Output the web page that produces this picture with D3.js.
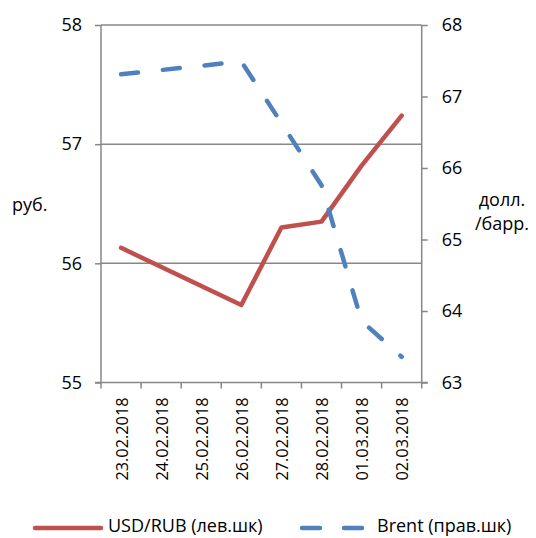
<!DOCTYPE html>
<html>
<head>
<meta charset="utf-8">
<script src="https://cdn.jsdelivr.net/npm/d3@7"></script>
<style>
  html, body { margin: 0; padding: 0; background: #fff; }
  svg { display: block; }
  text { font-family: "Open Sans", "Noto Sans", sans-serif; fill: #000; }
</style>
</head>
<body>
<svg id="chart" width="536" height="538"></svg>
<script>
const dates = ["23.02.2018","24.02.2018","25.02.2018","26.02.2018","27.02.2018","28.02.2018","01.03.2018","02.03.2018"];
const usdRub = [56.13, null, null, 55.65, 56.30, 56.35, 56.82, 57.24];
const brent = [67.31, null, null, 67.49, 66.63, 65.76, 63.86, 63.36];
const leftTicks = [55, 56, 57, 58];
const rightTicks = [63, 64, 65, 66, 67, 68];
const seriesNames = ["USD/RUB (лев.шк)", "Brent (прав.шк)"];
const leftTitle = "руб.";
const rightTitle = ["долл.", "/барр."];

const svg = d3.select("#chart");
const L = 101, R = 421.7, T = 25, B = 382.5;
const gridColor = "#878787";
const red = "#C0504D", blue = "#4F81BD";
const fs = "18px";

const x = d3.scaleBand().domain(dates).range([L, R]).padding(0);
const yL = d3.scaleLinear().domain([55, 58]).range([B, T]);
const yR = d3.scaleLinear().domain([63, 68]).range([B, T]);
const cx = d => x(d) + x.bandwidth() / 2;

// gridlines (left axis major)
svg.append("g").selectAll("line").data(leftTicks.filter(v => v !== 55)).join("line")
  .attr("x1", L).attr("x2", R)
  .attr("y1", d => yL(d)).attr("y2", d => yL(d))
  .attr("stroke", gridColor).attr("stroke-width", 1.5);

// left axis
const gLeft = svg.append("g").attr("transform", `translate(${L},0)`)
  .call(d3.axisLeft(yL).tickValues(leftTicks).tickSize(6).tickPadding(13).tickFormat(d3.format("d")));
gLeft.select(".domain").remove();
gLeft.selectAll(".tick line").attr("stroke", gridColor).attr("stroke-width", 1.5);
gLeft.selectAll(".tick text").style("font-size", fs).style("font-family", "Open Sans").attr("fill", "#000");
svg.append("line").attr("x1", L).attr("x2", L).attr("y1", T).attr("y2", B)
  .attr("stroke", gridColor).attr("stroke-width", 1.5);

// right axis
const gRight = svg.append("g").attr("transform", `translate(${R},0)`)
  .call(d3.axisRight(yR).tickValues(rightTicks).tickSize(6).tickPadding(14).tickFormat(d3.format("d")));
gRight.select(".domain").remove();
gRight.selectAll(".tick line").attr("stroke", gridColor).attr("stroke-width", 1.5);
gRight.selectAll(".tick text").style("font-size", fs).style("font-family", "Open Sans").attr("fill", "#000");
svg.append("line").attr("x1", R).attr("x2", R).attr("y1", T).attr("y2", B)
  .attr("stroke", gridColor).attr("stroke-width", 1.5);

// bottom axis line and boundary ticks
svg.append("line").attr("x1", L - 6).attr("x2", R + 6).attr("y1", B).attr("y2", B)
  .attr("stroke", gridColor).attr("stroke-width", 1.5);
const bounds = dates.map(d => x(d)).concat([x(dates[dates.length - 1]) + x.bandwidth()]);
svg.append("g").selectAll("line").data(bounds).join("line")
  .attr("x1", d => d).attr("x2", d => d).attr("y1", B).attr("y2", B + 6)
  .attr("stroke", gridColor).attr("stroke-width", 1.5);

// date labels
svg.append("g").selectAll("text").data(dates).join("text")
  .attr("transform", d => `translate(${cx(d) + 1},${B + 15}) rotate(-90)`)
  .attr("text-anchor", "end").attr("dy", "0.35em")
  .style("font-size", "16.3px")
  .text(d => d);

// axis titles
svg.append("text").attr("x", 12).attr("y", 205).attr("dy", "0.35em")
  .style("font-size", fs).text(leftTitle);
svg.append("g").selectAll("text").data(rightTitle).join("text")
  .attr("x", 502).attr("y", (d, i) => 200 + i * 24).attr("dy", "0.35em")
  .attr("text-anchor", "middle").style("font-size", fs).text(d => d);

// lines
const usdPts = dates.map((d, i) => ({d, v: usdRub[i]})).filter(p => p.v != null);
const brentPts = dates.map((d, i) => ({d, v: brent[i]})).filter(p => p.v != null);

svg.append("path").datum(usdPts)
  .attr("d", d3.line().x(p => cx(p.d)).y(p => yL(p.v)))
  .attr("fill", "none").attr("stroke", red).attr("stroke-width", 4.5)
  .attr("stroke-linejoin", "round").attr("stroke-linecap", "round");

svg.append("path").datum(brentPts)
  .attr("d", d3.line().x(p => cx(p.d)).y(p => yR(p.v)))
  .attr("fill", "none").attr("stroke", blue).attr("stroke-width", 4.5)
  .attr("stroke-dasharray", "17 25").attr("stroke-linejoin", "round").attr("stroke-linecap", "round");

// legend
const ly = 526;
svg.append("line").attr("x1", 35).attr("x2", 101).attr("y1", ly + 2).attr("y2", ly + 2)
  .attr("stroke", red).attr("stroke-width", 4.5).attr("stroke-linecap", "round");
svg.append("text").attr("x", 108).attr("y", ly).attr("dy", "0.35em")
  .style("font-size", "18px").text(seriesNames[0]);
svg.append("line").attr("x1", 302).attr("x2", 364).attr("y1", ly + 2).attr("y2", ly + 2)
  .attr("stroke", blue).attr("stroke-width", 4.5).attr("stroke-linecap", "round")
  .attr("stroke-dasharray", "18 24");
svg.append("text").attr("x", 377).attr("y", ly).attr("dy", "0.35em")
  .style("font-size", "18px").text(seriesNames[1]);
</script>
</body>
</html>
